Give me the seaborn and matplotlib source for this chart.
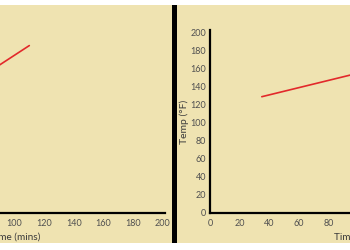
import matplotlib
matplotlib.use("Agg")
import matplotlib.pyplot as plt
from matplotlib.patches import Rectangle
import seaborn as sns
import pandas as pd

# ---- data ----
left_time = [80, 110]
left_temp = [153, 185]
right_time = [35, 100]
right_temp = [128.5, 154.5]
x_ticks = [0, 20, 40, 60, 80, 100, 120, 140, 160, 180, 200]
y_ticks = [0, 20, 40, 60, 80, 100, 120, 140, 160, 180, 200]
x_label = "Time (mins)"
y_label = "Temp (°F)"

BG = "#EFE3B1"
RED = "#E2292B"
TICK = "#505050"

sns.set_theme(style="white")
plt.rcParams["font.family"] = ["Lato", "DejaVu Sans"]

W, H = 350, 250
fig = plt.figure(figsize=(3.5, 2.5), dpi=100, facecolor="white")

# panel background and centre divider
fig.patches.append(Rectangle((0, 7 / H), 1, 238 / H, transform=fig.transFigure,
                             facecolor=BG, edgecolor="none", zorder=-2))
fig.patches.append(Rectangle((172 / W, 7 / H), 5 / W, 238 / H, transform=fig.transFigure,
                             facecolor="black", edgecolor="none", zorder=5))

px_x = 1.48
px_y = 0.905
y0 = 213
ymax = 202
bottom = (H - y0) / H
height = ymax * px_y / H
xmax = 201.5
ax_w_px = xmax * px_x

def make_axes(x0_px, times, temps):
    ax = fig.add_axes([x0_px / W, bottom, ax_w_px / W, height])
    ax.set_facecolor("none")
    df = pd.DataFrame({"t": times, "v": temps})
    sns.lineplot(data=df, x="t", y="v", ax=ax, color=RED, linewidth=1.2)
    ax.set_xlim(0, xmax)
    ax.set_ylim(0, ymax)
    ax.set_xticks(x_ticks)
    ax.set_yticks(y_ticks)
    for s in ["top", "right"]:
        ax.spines[s].set_visible(False)
    for s in ["left", "bottom"]:
        ax.spines[s].set_color("black")
        ax.spines[s].set_linewidth(1.6)
    ax.tick_params(axis="x", length=0, pad=4.3, labelsize=6.5, labelcolor=TICK)
    ax.tick_params(axis="y", length=0, pad=2.8, labelsize=6.5, labelcolor=TICK)
    ax.set_xlabel(x_label, fontsize=7.2, color="#3A3A3A", labelpad=3.0)
    ax.set_ylabel(y_label, fontsize=7.5, color="#3A3A3A")
    ax.yaxis.set_label_coords((189 - 210) / ax_w_px, 0.5)
    return ax

make_axes(-133.5, left_time, left_temp)
make_axes(210, right_time, right_temp)

fig.savefig("out.png", dpi=100, facecolor="white")
